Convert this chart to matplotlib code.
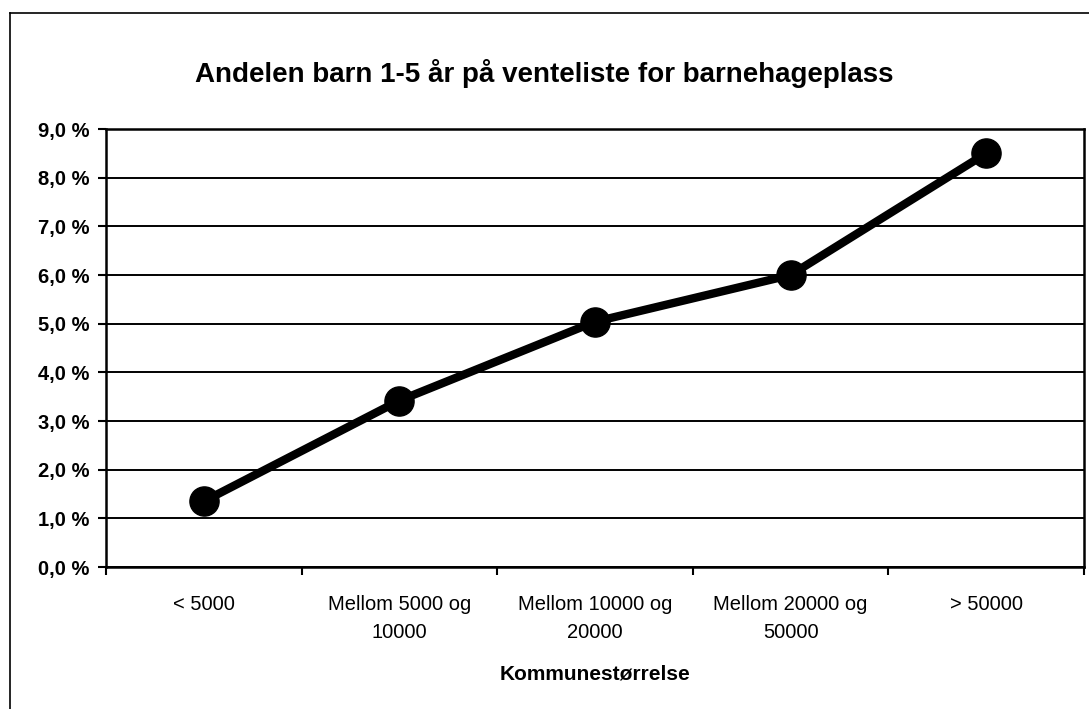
import matplotlib.pyplot as plt
from matplotlib.lines import Line2D
from matplotlib.ticker import FuncFormatter
import numpy as np

plt.rcParams['font.family'] = ['Liberation Sans', 'DejaVu Sans']

kategorier = ['< 5000', 'Mellom 5000 og\n10000', 'Mellom 10000 og\n20000',
              'Mellom 20000 og\n50000', '> 50000']
andel = [1.35, 3.42, 5.04, 6.0, 8.5]
y_ticks = [0, 1, 2, 3, 4, 5, 6, 7, 8, 9]

fig = plt.figure(figsize=(10.89, 7.09), dpi=100)
ax = fig.add_axes([106/1089, 1-567/709, (1084-106)/1089, (567-129)/709])

x = np.arange(len(kategorier))
ax.set_xlim(-0.5, len(kategorier)-0.5)
ax.set_ylim(0, 9)
ax.set_yticks(y_ticks)
ax.yaxis.set_major_formatter(FuncFormatter(lambda v, p: ('%.1f %%' % v).replace('.', ',')))
ax.grid(axis='y', color='black', linewidth=1.4, zorder=1)

ax.plot(x, andel, color='black', linewidth=6, marker='o', markersize=21, zorder=3)

# ticks at category boundaries, labels in the middle
ax.set_xticks(np.arange(-0.5, len(kategorier)), minor=False)
ax.set_xticklabels([])
ax.set_xticks(x, minor=True)
ax.set_xticklabels(kategorier, minor=True, fontsize=14.5, linespacing=1.6)
ax.tick_params(axis='x', which='minor', length=0, pad=20)
ax.tick_params(axis='x', which='major', length=6, width=1.5, direction='out')
ax.tick_params(axis='y', length=6, width=1.5, pad=6)
for t in ax.get_yticklabels():
    t.set_fontsize(14.5)
    t.set_fontweight('bold')

for s in ax.spines.values():
    s.set_linewidth(1.8)
    s.set_color('black')

ax.set_xlabel('Kommunestørrelse', fontsize=15, fontweight='bold', labelpad=16)
fig.text(0.5, 1-73/709, 'Andelen barn 1-5 år på venteliste for barnehageplass',
         ha='center', va='center', fontsize=20, fontweight='bold')

# chart border (scanned, only left and top visible)
fig.add_artist(Line2D([10/1089, 10/1089], [0, 1-13/709], color='black', linewidth=1.2))
fig.add_artist(Line2D([10/1089, 1], [1-13/709, 1-13/709], color='black', linewidth=1.2))

fig.savefig('out.png', dpi=100)
